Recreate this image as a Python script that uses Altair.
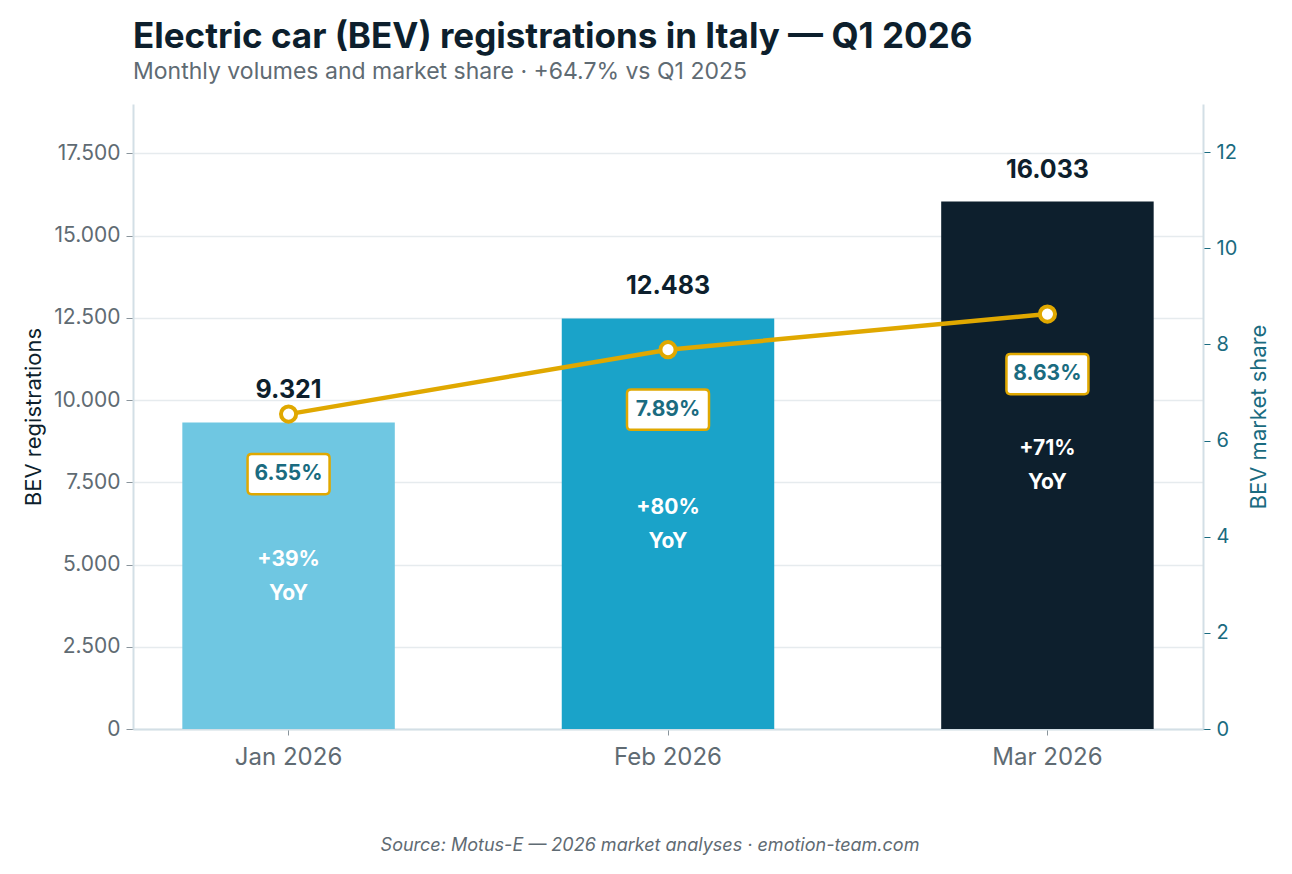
import altair as alt
import pandas as pd

months = ["Jan 2026", "Feb 2026", "Mar 2026"]
registrations = [9321, 12483, 16033]
reg_labels = ["9.321", "12.483", "16.033"]
share = [6.55, 7.89, 8.63]
share_labels = ["6.55%", "7.89%", "8.63%"]
yoy = ["+39%\nYoY", "+80%\nYoY", "+71%\nYoY"]
bar_colors = ["#6FC7E2", "#1AA3C9", "#0D1F2D"]

title_text = "Electric car (BEV) registrations in Italy — Q1 2026"
subtitle_text = "Monthly volumes and market share · +64.7% vs Q1 2025"
source_text = "Source: Motus-E — 2026 market analyses · emotion-team.com"

FONT = "Inter"
DARK = "#0D1F2D"
GRAY = "#5F6B73"
TEAL = "#1A6B80"
GOLD = "#E0A800"
AXIS_LINE = "#D3DFE6"
GRID = "#E6EBEE"

W, H = 1070, 625

df = pd.DataFrame({
    "month": months,
    "reg": registrations,
    "reg_label": reg_labels,
    "share": share,
    "share_label": share_labels,
    "yoy": yoy,
    "color": bar_colors,
})

x = alt.X("month:N", sort=months, title=None,
          scale=alt.Scale(paddingInner=0.44, paddingOuter=0.13),
          axis=alt.Axis(labelAngle=0, labelFontSize=24, labelColor=GRAY, labelFont=FONT,
                        labelPadding=10, tickColor="#8A959C", tickSize=6,
                        domainColor=AXIS_LINE, domainWidth=2))

y_left = alt.Y("reg:Q", title="BEV registrations",
               scale=alt.Scale(domain=[0, 19000], nice=False),
               axis=alt.Axis(values=[0, 2500, 5000, 7500, 10000, 12500, 15000, 17500],
                             labelExpr="replace(format(datum.value, ','), ',', '.')",
                             labelFontSize=21, labelColor=GRAY, labelFont=FONT,
                             titleFontSize=22, titleColor=DARK, titleFont=FONT,
                             titleFontWeight="normal", titlePadding=8,
                             tickColor="#8A959C", tickSize=7, labelPadding=6,
                             domainColor=AXIS_LINE, domainWidth=2,
                             grid=True, gridColor=GRID, gridWidth=1.5))

base = alt.Chart(df)

bars = base.mark_bar().encode(
    x=x,
    y=y_left,
    color=alt.Color("color:N", scale=None),
)

bar_text = base.mark_text(fontSize=25, fontWeight="bold", font=FONT, color=DARK,
                          baseline="middle", dy=-32).encode(
    x=alt.X("month:N", sort=months),
    y=alt.Y("reg:Q"),
    text="reg_label:N",
)

yoy_text = base.transform_calculate(half="datum.reg / 2").mark_text(
    fontSize=21, fontWeight="bold", font=FONT, color="white",
    baseline="middle", lineBreak="\n", lineHeight=34, dy=-16).encode(
    x=alt.X("month:N", sort=months),
    y=alt.Y("half:Q"),
    text="yoy:N",
)

source = alt.Chart(pd.DataFrame({"t": [source_text]})).mark_text(
    fontSize=18, fontStyle="italic", font=FONT, color=GRAY, baseline="middle").encode(
    x=alt.value(517), y=alt.value(742), text="t:N")

left = alt.layer(bars, bar_text, yoy_text, source)

y_right = alt.Y("share:Q", title="BEV market share",
                scale=alt.Scale(domain=[0, 13], nice=False),
                axis=alt.Axis(orient="right", values=[0, 2, 4, 6, 8, 10, 12],
                              labelFontSize=20, labelColor=TEAL, labelFont=FONT,
                              titleFontSize=22, titleColor=TEAL, titleFont=FONT,
                              titleFontWeight="normal", titlePadding=12, titleAngle=270,
                              titleBaseline="top",
                              tickColor=TEAL, tickSize=7, labelPadding=6,
                              domainColor=AXIS_LINE, domainWidth=2, grid=False))

line = base.mark_line(color=GOLD, strokeWidth=4.5).encode(
    x=alt.X("month:N", sort=months), y=y_right)

points = base.mark_point(filled=True, fill="white", stroke=GOLD, strokeWidth=4,
                         size=230, opacity=1).encode(
    x=alt.X("month:N", sort=months), y=alt.Y("share:Q"))

box_path = ("M-0.9,-0.49 L0.9,-0.49 Q1,-0.49 1,-0.39 L1,0.39 Q1,0.49 0.9,0.49 "
            "L-0.9,0.49 Q-1,0.49 -1,0.39 L-1,-0.39 Q-1,-0.49 -0.9,-0.49 Z")
boxes = base.mark_point(shape=box_path, filled=True, fill="white", stroke=GOLD,
                        strokeWidth=2.5, size=82 * 82, opacity=1, yOffset=60).encode(
    x=alt.X("month:N", sort=months), y=alt.Y("share:Q"))

box_text = base.mark_text(fontSize=21, fontWeight="bold", font=FONT, color=TEAL,
                          baseline="middle", yOffset=60).encode(
    x=alt.X("month:N", sort=months), y=alt.Y("share:Q"), text="share_label:N")

right = alt.layer(line, points, boxes, box_text)

chart = alt.layer(left, right).resolve_scale(y="independent").properties(
    width=W, height=H,
    title=alt.Title(title_text, subtitle=subtitle_text, anchor="start", frame="group",
                    font=FONT, fontSize=35, fontWeight="bold", color=DARK,
                    subtitleFont=FONT, subtitleFontSize=23, subtitleColor=GRAY,
                    subtitlePadding=6, offset=20),
    autosize=alt.AutoSizeParams(type="none"),
    padding={"left": 133, "top": 104, "right": 89, "bottom": 145},
    background="white",
).configure_view(stroke=None)

chart.save("out.html", embed_options={"renderer": "svg", "actions": False})
